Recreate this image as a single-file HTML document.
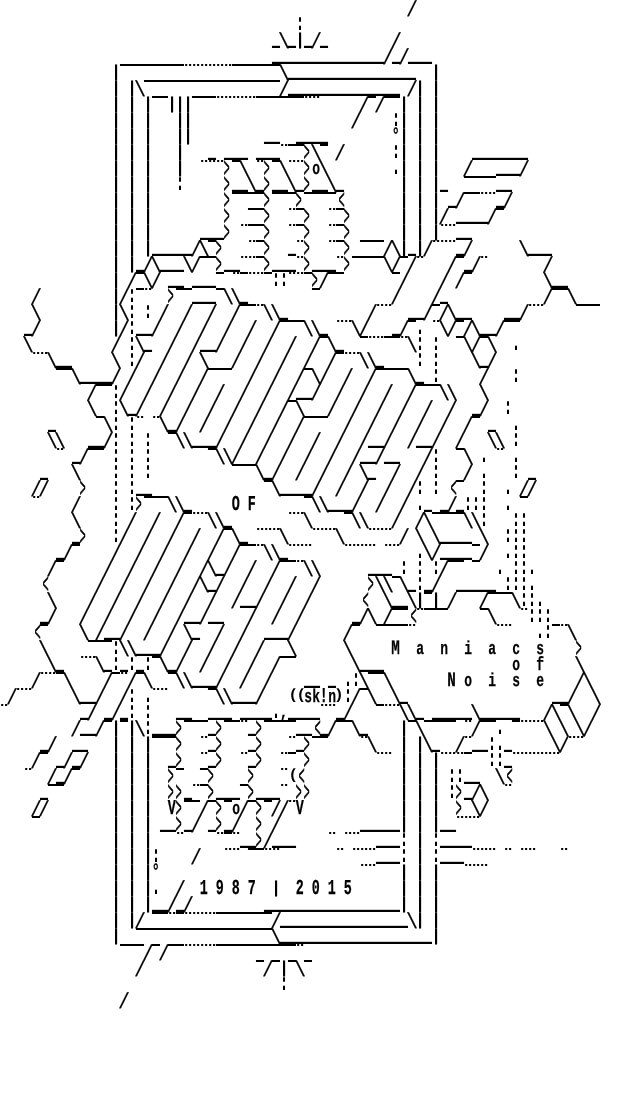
<!DOCTYPE html>
<html><head><meta charset="utf-8"><title>Maniacs of Noise</title>
<style>
html,body{margin:0;padding:0;background:#fff;}
body{width:640px;height:1120px;position:relative;overflow:hidden;}
#art{position:absolute;left:0;top:0;margin:0;padding:0;color:#000;font-family:"Liberation Mono",monospace;font-size:13.33116px;line-height:16px;white-space:pre;will-change:transform;text-rendering:geometricPrecision;font-kerning:none;font-variant-ligatures:none;}
#art span{display:inline-block;vertical-align:top;height:16px;line-height:16px;white-space:pre;transform-origin:0 0;}
.sl{font-size:21.9px;font-weight:normal;letter-spacing:-4.3646px;transform:translate(-2.11px,3px) scale(0.911416,1);-webkit-text-stroke:0.2px #000;}
.us{font-size:46.5px;font-weight:bold;letter-spacing:-0.0045px;transform:translate(0.0px,-9px) scale(0.286738,1);}
.ov{font-size:43.06px;font-weight:normal;letter-spacing:-0.0041px;transform:translate(0.0px,15px) scale(0.309645,1);}
.br{font-size:16.0px;font-weight:bold;letter-spacing:-1.6016px;transform:translate(-0.8px,0px) scale(1.000000,1);text-shadow:0 1px 0 #000;}
.di{font-size:18.7px;font-weight:bold;letter-spacing:-3.2939px;transform:translate(-1.55px,0px) scale(1.009091,1);}
.gt{font-size:28.5px;font-weight:normal;letter-spacing:5.0331px;transform:translate(-0.5px,2px) scale(0.361404,1);-webkit-text-stroke:0.5px #000;}
.lt{font-size:28.5px;font-weight:normal;letter-spacing:5.0331px;transform:translate(2.5px,2px) scale(0.361404,1);-webkit-text-stroke:0.5px #000;}
.pt{font-size:22.0px;font-weight:bold;letter-spacing:-0.8078px;transform:translate(-0.2px,1px) scale(0.645455,1);text-shadow:0 -0.8px 0 #000;}
.lc{font-size:18.8px;font-weight:bold;letter-spacing:0.2874px;transform:translate(0.2px,1px) scale(0.691489,1);-webkit-text-stroke:0.25px #000;}
.pl{font-size:15.0px;font-weight:bold;letter-spacing:-1.5015px;transform:translate(0.5px,0px) scale(1.066667,1);}
.pr{font-size:15.0px;font-weight:bold;letter-spacing:-1.5015px;transform:translate(-1.9px,0px) scale(1.066667,1);}
.tx{font-size:21.25px;font-weight:bold;letter-spacing:-0.0655px;transform:translate(-0.3px,1px) scale(0.630588,1);-webkit-text-stroke:0.25px #000;}
.wd{font-size:18.8px;font-weight:bold;transform:translate(0.2px,1px) scale(0.691489,1);-webkit-text-stroke:0.25px #000;}
.wd::first-letter{font-size:20.6px;line-height:1px;margin-left:-1.302px;margin-right:1.302px;}
.lc.k3{letter-spacing:23.4259px}
.tx.k2{letter-spacing:12.6211px}
.wd.f2::first-letter{letter-spacing:10.7764px}
.wd.f3::first-letter{letter-spacing:22.3457px}
.wd.k3{letter-spacing:23.4259px}
.n1{width:8px}.n2{width:16px}.n3{width:24px}.n4{width:32px}.n5{width:40px}.n6{width:48px}.n7{width:56px}.n8{width:64px}.n10{width:80px}.n12{width:96px}.n14{width:112px}.n16{width:128px}.n17{width:136px}.n19{width:152px}

</style></head><body>
<pre id="art">
                                                   <span class="sl n1">/</span>
                                     <span class="pt n1">:</span>
                                  <span class="us n1">_</span><span class="sl n1">\</span><span class="us n1">_</span><span class="br n1">|</span><span class="us n1">_</span><span class="sl n1">/</span><span class="us n1">_</span>        <span class="sl n1">/</span>
                                  <span class="us n14">______________</span><span class="sl n1">/</span><span class="us n1">_</span><span class="sl n1">/</span><span class="us n3">___</span>
              <span class="br n1">|</span><span class="ov n8">¯¯¯¯¯¯¯¯</span><span class="di n6">¨¨¨¨¨¨</span><span class="ov n6">¯¯¯¯¯¯</span><span class="sl n1">\</span><span class="us n16">________________</span>  <span class="br n1">|</span>
              <span class="br n1">|</span> <span class="br n1">|</span><span class="sl n1">\</span><span class="ov n17">¯¯¯¯¯¯¯¯¯¯¯¯¯¯¯¯¯</span><span class="sl n1">/</span><span class="us n14">______________</span> <span class="sl n1">/</span><span class="br n1">|</span> <span class="br n1">|</span>
              <span class="br n1">|</span> <span class="br n1">|</span> <span class="br n1">|</span><span class="ov n2">¯¯</span><span class="br n3">|||</span><span class="ov n3">¯¯¯</span><span class="di n5">¨¨¨¨¨</span><span class="ov n6">¯¯¯¯¯¯</span><span class="di n2">¨¨</span>     <span class="sl n1">/</span><span class="ov n1">¯</span><span class="sl n1">/</span><span class="ov n2">¯¯</span><span class="br n1">|</span> <span class="br n1">|</span> <span class="br n1">|</span>
              <span class="br n1">|</span> <span class="br n1">|</span> <span class="br n1">|</span>   <span class="br n2">||</span>                    <span class="sl n1">/</span>    <span class="pt n1">:</span><span class="br n1">|</span> <span class="br n1">|</span> <span class="br n1">|</span>
              <span class="br n1">|</span> <span class="br n1">|</span> <span class="br n1">|</span>   <span class="br n2">||</span>         <span class="us n2">__</span>  <span class="us n4">____</span>        <span class="tx n1">°</span><span class="br n1">|</span> <span class="br n1">|</span> <span class="br n1">|</span>
              <span class="br n1">|</span> <span class="br n1">|</span> <span class="br n1">|</span>   <span class="br n1">|</span>   <span class="us n1">_</span> <span class="us n3">___</span> <span class="us n3">___</span><span class="di n1">¨</span><span class="ov n2">¯¯</span><span class="gt n1">&gt;</span><span class="sl n1">\</span><span class="ov n1">¯</span> <span class="sl n1">/</span>      <span class="pt n1">:</span><span class="br n1">|</span> <span class="br n1">|</span> <span class="br n1">|</span>    <span class="us n7">_______</span>
              <span class="br n1">|</span> <span class="br n1">|</span> <span class="br n1">|</span>   <span class="br n1">|</span>  <span class="di n3">¨¨¨</span><span class="gt n1">&gt;</span><span class="ov n1">¯</span><span class="sl n1">\</span> <span class="di n1">¨</span><span class="gt n1">&gt;</span><span class="ov n1">¯</span><span class="sl n1">\</span><span class="di n2">¨¨</span><span class="gt n1">&gt;</span><span class="lc n1">o</span><span class="sl n1">\</span>        <span class="pt n1">.</span><span class="br n1">|</span> <span class="br n1">|</span> <span class="br n1">|</span>   <span class="sl n1">/</span>   <span class="us n3">___</span><span class="sl n1">/</span>
              <span class="br n1">|</span> <span class="br n1">|</span> <span class="br n1">|</span>   <span class="pt n1">:</span>     <span class="gt n1">&gt;</span><span class="us n2">__</span><span class="sl n1">\</span><span class="us n1">_</span><span class="gt n1">&gt;</span><span class="us n2">__</span><span class="sl n1">\</span><span class="us n1">_</span><span class="gt n1">&gt;</span><span class="us n2">__</span><span class="sl n1">\</span><span class="us n1">_</span>       <span class="br n1">|</span> <span class="br n1">|</span> <span class="br n1">|</span><span class="us n1">_</span>  <span class="ov n4">¯¯¯¯</span><span class="us n2">__</span>
              <span class="br n1">|</span> <span class="br n1">|</span> <span class="br n1">|</span>         <span class="gt n1">&gt;</span><span class="ov n4">¯¯¯¯</span><span class="gt n1">&gt;</span><span class="ov n3">¯¯¯</span><span class="gt n1">&gt;</span><span class="ov n4">¯¯¯¯</span><span class="lt n1">&lt;</span>       <span class="br n1">|</span> <span class="br n1">|</span> <span class="br n1">|</span> <span class="us n1">_</span><span class="sl n1">/</span><span class="ov n2">¯¯</span><span class="di n2">¨¨</span><span class="us n1">_</span><span class="sl n1">/</span>
              <span class="br n1">|</span> <span class="br n1">|</span> <span class="br n1">|</span>         <span class="gt n1">&gt;</span>  <span class="ov n2">¯¯</span><span class="gt n1">&gt;</span>  <span class="di n1">¨</span><span class="ov n1">¯</span><span class="gt n1">&gt;</span>  <span class="di n1">¨</span><span class="ov n1">¯</span><span class="gt n1">&gt;</span>      <span class="br n1">|</span> <span class="br n1">|</span> <span class="br n1">|</span><span class="sl n1">/</span> <span class="us n4">____</span><span class="sl n1">/</span><span class="ov n1">¯</span>
              <span class="br n1">|</span> <span class="br n1">|</span> <span class="br n1">|</span>      <span class="us n3">___</span><span class="gt n1">&gt;</span> <span class="di n1">¨</span><span class="ov n2">¯¯</span><span class="gt n1">&gt;</span>  <span class="di n1">¨</span><span class="ov n1">¯</span><span class="gt n1">&gt;</span>  <span class="di n1">¨</span><span class="ov n1">¯</span><span class="gt n1">&gt;</span>      <span class="br n1">|</span> <span class="br n1">|</span> <span class="br n1">|</span><span class="di n2">¨¨</span><span class="us n2">__</span>
              <span class="br n1">|</span> <span class="br n1">|</span> <span class="br n1">|</span><span class="us n5">_____</span><span class="sl n2">/\</span><span class="ov n1">¯</span><span class="gt n1">&gt;</span>   <span class="di n1">¨</span><span class="ov n1">¯</span><span class="gt n1">&gt;</span>  <span class="us n1">_</span><span class="di n1">¨</span><span class="gt n1">&gt;</span>  <span class="di n1">¨</span><span class="ov n1">¯</span><span class="gt n1">&gt;</span> <span class="ov n3">¯¯¯</span><span class="sl n2">/\</span><span class="br n1">|</span><span class="us n1">_</span><span class="br n1">|</span><span class="sl n1">/</span><span class="di n3">¨¨¨</span><span class="us n1">_</span><span class="sl n1">/</span>      <span class="sl n1">\</span><span class="us n3">___</span>
              <span class="br n1">|</span> <span class="br n1">|</span><span class="us n1">_</span><span class="sl n2">/\</span><span class="us n3">___</span><span class="sl n2">\/</span><span class="ov n2">¯¯</span><span class="gt n1">&gt;</span><span class="us n2">__</span><span class="di n2">¨¨</span><span class="ov n1">¯</span><span class="gt n1">&gt;</span><span class="us n3">___</span><span class="di n1">¨</span><span class="gt n1">&gt;</span><span class="us n3">___</span><span class="di n1">¨</span><span class="gt n1">&gt;</span><span class="ov n4">¯¯¯¯</span><span class="sl n2">\/</span><span class="ov n1">¯</span><span class="sl n1">/</span><span class="di n1">¨</span>   <span class="sl n1">/</span><span class="ov n1">¯</span><span class="us n1">_</span><span class="sl n1">/</span><span class="di n1">¨</span>       <span class="sl n1">/</span>
              <span class="br n1">|</span> <span class="sl n1">/</span><span class="ov n1">¯</span><span class="sl n2">\/</span> <span class="us n2">__</span> <span class="us n3">___</span><span class="ov n1">¯</span> <span class="di n1">¨</span><span class="ov n1">¯</span><span class="di n2">¨¨</span><span class="ov n1">¯</span><span class="pt n2">::</span><span class="di n2">¨¨</span><span class="ov n1">¯</span><span class="gt n1">&gt;</span><span class="sl n1">/</span><span class="ov n2">¯¯</span>      <span class="ov n1">¯</span><span class="sl n1">/</span>    <span class="sl n1">/</span> <span class="sl n1">/</span><span class="ov n1">¯</span>         <span class="sl n1">\</span><span class="us n2">__</span>
    <span class="sl n1">/</span>         <span class="br n1">|</span><span class="sl n1">/</span><span class="pt n1">:</span><span class="ov n1">¯</span><span class="di n1">¨</span>  <span class="gt n1">&gt;</span><span class="ov n2">¯¯</span><span class="us n3">___</span><span class="ov n1">¯</span><span class="sl n2">\\</span><span class="us n1">_</span>        <span class="ov n1">¯</span>         <span class="sl n1">/</span>    <span class="sl n1">/</span><span class="us n1">_</span>            <span class="sl n1">/</span><span class="ov n2">¯¯</span><span class="sl n1">\</span>
    <span class="sl n1">\</span>         <span class="br n1">|</span><span class="sl n1">\</span><span class="pt n1">:</span> <span class="pt n1">:</span> <span class="sl n1">/</span>  <span class="sl n1">/</span>  <span class="sl n1">/</span>  <span class="sl n1">/</span><span class="ov n2">¯¯</span><span class="di n1">¨</span><span class="sl n2">\\</span><span class="us n1">_</span>          <span class="sl n1">/</span><span class="di n2">¨¨</span>  <span class="us n2">__</span><span class="sl n1">/</span><span class="ov n1">¯</span><span class="sl n2">/\</span><span class="us n2">__</span>    <span class="us n2">__</span><span class="sl n1">/</span><span class="di n2">¨¨</span>    <span class="ov n3">¯¯¯</span>
   <span class="us n1">_</span><span class="sl n1">/</span>         <span class="br n1">|</span><span class="sl n1">/</span><span class="pt n1">:</span><span class="us n2">__</span><span class="sl n1">/</span>  <span class="sl n1">/</span>  <span class="sl n1">/</span>  <span class="sl n1">/</span>  <span class="sl n1">/</span>  <span class="sl n1">/</span><span class="ov n3">¯¯¯</span><span class="sl n2">\\</span><span class="us n1">_</span> <span class="di n2">¨¨</span><span class="sl n2">\/</span>   <span class="us n1">_</span><span class="sl n1">/</span><span class="ov n1">¯</span><span class="pt n1">.</span> <span class="di n1">¨</span><span class="sl n2">\/</span><span class="ov n1">¯</span><span class="sl n2">/\</span><span class="us n2">__</span><span class="sl n1">/</span><span class="ov n2">¯¯</span>
   <span class="sl n1">\</span>          <span class="sl n1">/</span> <span class="pt n1">:</span><span class="sl n1">\</span><span class="us n1">_</span>  <span class="sl n1">/</span>  <span class="sl n1">/</span><span class="us n2">__</span><span class="sl n1">/</span>  <span class="sl n1">/</span>  <span class="sl n1">/</span>  <span class="sl n1">/</span>  <span class="sl n1">/</span><span class="ov n1">¯</span><span class="sl n1">\</span><span class="us n1">_</span>  <span class="ov n1">¯</span><span class="di n2">¨¨</span><span class="ov n2">¯¯</span><span class="di n1">¨</span><span class="sl n1">\</span><span class="pt n1">:</span> <span class="pt n1">:</span>  <span class="ov n1">¯</span><span class="sl n2">\/</span><span class="ov n1">¯</span><span class="sl n1">\</span>  <span class="pt n1">.</span>
    <span class="di n2">¨¨</span><span class="sl n1">\</span><span class="us n2">__</span>     <span class="sl n1">\</span> <span class="pt n1">:</span><span class="sl n1">/</span>  <span class="sl n1">/</span>  <span class="sl n1">/</span> <span class="sl n1">\</span>   <span class="sl n1">/</span>  <span class="sl n1">/</span>  <span class="sl n1">/</span>  <span class="sl n1">/</span>  <span class="sl n1">/</span><span class="ov n1">¯</span><span class="di n2">¨¨</span><span class="sl n2">\\</span><span class="us n1">_</span>    <span class="pt n1">:</span> <span class="pt n1">:</span>    <span class="sl n1">\</span><span class="us n1">_</span><span class="sl n1">/</span>
       <span class="ov n2">¯¯</span><span class="sl n1">\</span><span class="us n4">____</span><span class="sl n1">/</span> <span class="sl n1">/</span>  <span class="sl n1">/</span>  <span class="sl n1">/</span>  <span class="sl n1">/</span><span class="ov n3">¯¯¯</span>  <span class="sl n1">/</span>  <span class="sl n1">/</span>  <span class="sl n1">/</span><span class="ov n1">¯</span><span class="sl n2">\/</span>  <span class="sl n1">/</span>  <span class="sl n1">/</span><span class="ov n4">¯¯¯¯</span><span class="sl n1">\</span><span class="us n1">_</span> <span class="pt n1">:</span>     <span class="sl n1">/</span>   <span class="pt n1">:</span>
           <span class="sl n1">/</span><span class="ov n2">¯¯</span><span class="pt n1">:</span><span class="sl n1">/</span>  <span class="sl n1">/</span>  <span class="sl n1">/</span>  <span class="sl n1">/</span>  <span class="sl n1">/</span>  <span class="sl n1">/</span>  <span class="sl n1">/</span>  <span class="sl n1">/</span><span class="us n2">__</span><span class="sl n1">/</span>  <span class="sl n1">/</span>  <span class="sl n1">/</span>  <span class="sl n1">/</span>  <span class="sl n1">/</span><span class="ov n3">¯¯¯</span><span class="sl n2">\\</span>   <span class="sl n1">\</span>
           <span class="sl n1">\</span>  <span class="pt n1">:</span><span class="sl n1">\</span><span class="us n1">_</span><span class="sl n1">/</span>  <span class="sl n1">/</span>  <span class="sl n1">/</span>  <span class="sl n1">/</span>  <span class="sl n1">/</span>  <span class="sl n1">/</span>  <span class="sl n1">/</span><span class="ov n1">¯</span><span class="sl n1">\</span>   <span class="sl n1">/</span>  <span class="sl n1">/</span>  <span class="sl n1">/</span>  <span class="sl n1">/</span>  <span class="sl n1">/</span>  <span class="sl n1">/</span>  <span class="us n1">_</span><span class="sl n1">/</span>  <span class="pt n1">:</span>
      <span class="us n1">_</span>     <span class="ov n1">¯</span><span class="sl n1">\</span><span class="pt n1">:</span> <span class="pt n1">:</span><span class="di n1">¨</span> <span class="di n1">¨</span><span class="sl n1">\</span><span class="us n1">_</span><span class="sl n1">/</span>  <span class="sl n1">/</span>  <span class="sl n1">/</span>  <span class="sl n1">/</span>  <span class="sl n1">/</span>  <span class="sl n1">/</span><span class="ov n3">¯¯¯</span>  <span class="sl n1">/</span>  <span class="sl n1">/</span>  <span class="sl n1">/</span>  <span class="sl n1">/</span>  <span class="sl n1">/</span>  <span class="sl n1">/</span><span class="ov n1">¯</span> <span class="us n1">_</span>  <span class="pt n1">.</span>
      <span class="sl n2">\\</span>   <span class="us n2">__</span><span class="sl n1">/</span><span class="pt n1">:</span> <span class="pt n1">:</span> <span class="pt n1">:</span>  <span class="ov n1">¯</span><span class="sl n2">\\</span><span class="us n3">___</span><span class="sl n1">/</span>  <span class="sl n1">/</span>  <span class="sl n1">/</span>  <span class="sl n1">/</span>  <span class="sl n1">/</span>  <span class="sl n1">/</span>  <span class="sl n1">/</span><span class="us n2">__</span><span class="sl n1">/</span>  <span class="sl n1">/</span><span class="us n2">__</span><span class="sl n1">/</span>  <span class="sl n1">/</span>   <span class="sl n2">\\</span> <span class="pt n1">:</span>
       <span class="di n1">¨</span> <span class="us n1">_</span><span class="sl n1">/</span><span class="ov n2">¯¯</span> <span class="pt n1">:</span> <span class="pt n1">:</span> <span class="pt n1">:</span>       <span class="ov n1">¯</span><span class="sl n3">\\/</span>  <span class="sl n1">/</span>  <span class="sl n1">/</span>  <span class="sl n1">/</span>  <span class="sl n1">/</span>  <span class="sl n1">/</span><span class="us n2">__</span><span class="sl n1">/</span><span class="us n2">__</span>   <span class="sl n1">/</span><span class="pt n1">:</span>  <span class="ov n1">¯</span><span class="sl n1">\</span> <span class="pt n1">.</span> <span class="di n1">¨</span> <span class="pt n1">.</span>
     <span class="us n1">_</span>   <span class="sl n1">\</span>    <span class="pt n1">:</span> <span class="pt n1">:</span> <span class="pt n1">:</span>          <span class="ov n3">¯¯¯</span><span class="sl n1">\</span><span class="us n1">_</span><span class="sl n1">/</span>  <span class="sl n1">/</span>  <span class="sl n1">/</span>  <span class="sl n1">/</span> <span class="sl n1">\</span><span class="us n1">_</span>  <span class="sl n1">/</span>  <span class="sl n1">/</span> <span class="pt n1">:</span>   <span class="sl n1">/</span> <span class="pt n1">.</span>   <span class="pt n1">:</span> <span class="us n1">_</span>
    <span class="sl n2">//</span>    <span class="gt n1">&gt;</span>   <span class="pt n1">:</span> <span class="pt n1">:</span><span class="us n2">__</span>              <span class="ov n1">¯</span><span class="sl n1">\</span><span class="us n4">____</span><span class="sl n1">/</span>  <span class="sl n1">/</span>  <span class="sl n1">/</span>  <span class="sl n1">/</span>  <span class="sl n1">/</span><span class="pt n1">:</span> <span class="pt n1">:</span> <span class="lt n1">&lt;</span><span class="ov n1">¯</span>  <span class="pt n1">:</span>  <span class="pt n1">.</span> <span class="sl n2">//</span>
    <span class="di n1">¨</span>    <span class="sl n1">/</span>    <span class="pt n1">:</span> <span class="pt n1">:</span><span class="gt n1">&gt;</span><span class="ov n3">¯¯¯</span><span class="sl n2">\\</span><span class="us n1">_</span>     <span class="tx k2 n3">OF</span>      <span class="ov n1">¯</span><span class="sl n2">\\</span><span class="us n3">___</span><span class="sl n1">/</span>  <span class="sl n1">/</span>  <span class="sl n1">/</span> <span class="pt n1">.</span><span class="us n1">_</span> <span class="us n1">_</span><span class="sl n1">/</span><span class="us n1">_</span><span class="pt n3">:::</span>  <span class="pt n1">.</span> <span class="ov n1">¯</span>
         <span class="sl n1">\</span>    <span class="pt n1">:</span> <span class="sl n1">/</span>  <span class="sl n1">/</span>  <span class="sl n1">/</span><span class="ov n1">¯</span><span class="di n2">¨¨</span><span class="sl n2">\\</span><span class="us n1">_</span>       <span class="di n2">¨¨</span><span class="sl n1">\</span>    <span class="ov n1">¯</span><span class="sl n2">\\</span>   <span class="sl n1">/</span>  <span class="sl n2">/\</span><span class="ov n4">¯¯¯¯</span><span class="sl n2">\\</span><span class="pt n1">:</span>   <span class="pt n2">::</span>
         <span class="us n1">_</span><span class="gt n1">&gt;</span>   <span class="pt n1">:</span><span class="sl n1">/</span>  <span class="sl n1">/</span>  <span class="sl n1">/</span>  <span class="sl n1">/</span>  <span class="sl n1">/</span><span class="ov n1">¯</span><span class="sl n1">\</span><span class="us n1">_</span> <span class="di n3">¨¨¨</span><span class="sl n1">\</span>   <span class="di n3">¨¨¨</span><span class="sl n1">\</span>   <span class="di n3">¨¨¨</span> <span class="sl n1">/</span> <span class="sl n1">\</span> <span class="sl n1">\</span><span class="us n4">____</span> <span class="sl n1">\</span>  <span class="pt n3">:::</span>
       <span class="us n1">_</span><span class="sl n1">/</span><span class="ov n1">¯</span>    <span class="sl n1">/</span>  <span class="sl n1">/</span>  <span class="sl n1">/</span>  <span class="sl n1">/</span>  <span class="sl n1">/</span>  <span class="sl n1">/</span><span class="ov n2">¯¯</span><span class="di n1">¨</span><span class="sl n2">\\</span><span class="us n1">_</span><span class="di n3">¨¨¨</span>    <span class="di n4">¨¨¨¨</span> <span class="di n2">¨¨</span>  <span class="pt n1">.</span><span class="sl n2">\/</span><span class="us n4">____</span><span class="ov n1">¯</span><span class="sl n1">/</span>  <span class="pt n3">.::</span>
      <span class="sl n1">/</span><span class="ov n1">¯</span>     <span class="sl n1">/</span>  <span class="sl n1">/</span>  <span class="sl n1">/</span>  <span class="sl n1">/</span>  <span class="sl n2">/\</span><span class="us n1">_</span><span class="sl n1">/</span>  <span class="sl n1">/</span>  <span class="sl n1">/</span><span class="ov n2">¯¯</span><span class="di n1">¨</span><span class="sl n2">\\</span>      <span class="us n3">___</span> <span class="pt n1">:</span> <span class="pt n1">:</span> <span class="pt n1">:</span><span class="sl n1">/</span><span class="ov n2">¯¯</span> <span class="ov n1">¯</span>  <span class="pt n1">.</span> <span class="pt n3">::.</span>
     <span class="lt n1">&lt;</span>      <span class="sl n1">/</span>  <span class="sl n1">/</span>  <span class="sl n1">/</span>  <span class="sl n1">/</span>  <span class="sl n2">/\</span><span class="us n1">_</span><span class="sl n1">/</span>  <span class="sl n1">/</span>  <span class="sl n1">/</span>  <span class="sl n1">/</span>  <span class="sl n1">/</span>      <span class="gt n1">&gt;</span><span class="sl n2">\\</span><span class="ov n1">¯</span><span class="sl n1">\</span><span class="us n1">_</span><span class="pt n1">:</span><span class="us n1">_</span><span class="sl n1">/</span>  <span class="us n5">_____</span> <span class="pt n4">:::.</span>
      <span class="sl n1">\</span>    <span class="sl n1">/</span>  <span class="sl n1">/</span>  <span class="sl n1">/</span>  <span class="sl n1">/</span>  <span class="sl n1">/</span>  <span class="sl n1">/</span>  <span class="sl n1">/</span><span class="us n2">__</span><span class="sl n1">/</span>  <span class="sl n1">/</span>  <span class="sl n1">/</span>      <span class="lt n1">&lt;</span>  <span class="sl n1">\</span><span class="us n2">__</span><span class="sl n1">\</span><span class="br n1">|</span><span class="ov n1">¯</span><span class="br n1">|</span> <span class="sl n1">/</span>   <span class="sl n1">/</span><span class="ov n3">¯¯¯</span><span class="sl n1">\</span><span class="pt n3">::.</span>
     <span class="us n1">_</span><span class="sl n1">/</span>   <span class="sl n1">/</span>  <span class="sl n1">/</span>  <span class="sl n1">/</span>  <span class="sl n1">/</span>  <span class="sl n1">/</span><span class="us n2">__</span><span class="sl n1">/</span><span class="us n2">__</span>   <span class="sl n1">/</span>  <span class="sl n1">/</span>  <span class="sl n1">/</span>      <span class="us n1">_</span><span class="sl n2">/\</span> <span class="sl n1">/</span><span class="ov n2">¯¯</span><span class="lt n1">&lt;</span><span class="di n1">¨</span><span class="ov n3">¯¯¯</span>    <span class="ov n1">¯</span><span class="sl n1">\</span>   <span class="di n1">¨</span><span class="pt n3">:::</span>
    <span class="lt n1">&lt;</span><span class="ov n1">¯</span>    <span class="sl n1">\</span> <span class="sl n1">/</span><span class="us n2">__</span><span class="sl n1">/</span>  <span class="sl n1">/</span>  <span class="sl n1">/</span> <span class="sl n1">\</span><span class="us n1">_</span>  <span class="sl n1">/</span>  <span class="sl n1">/</span>  <span class="us n3">___</span><span class="sl n1">/</span>      <span class="sl n1">/</span><span class="ov n1">¯</span>  <span class="ov n4">¯¯¯¯</span><span class="di n1">¨</span>          <span class="di n2">¨¨</span>   <span class="pt n2">.:</span><span class="ov n1">¯</span><span class="di n1">¨</span><span class="sl n1">\</span>
     <span class="sl n1">\</span>     <span class="ov n3">¯¯¯</span><span class="pt n1">:</span><span class="sl n2">\\</span><span class="us n3">___</span><span class="sl n1">/</span>  <span class="sl n1">/</span>  <span class="sl n1">/</span>  <span class="sl n1">/</span>  <span class="sl n1">/</span>   <span class="sl n1">\</span>      <span class="sl n1">\</span>     <span class="wd k3 f3 n19">Maniacs</span>    <span class="gt n1">&gt;</span>
      <span class="sl n1">\</span><span class="us n1">_</span>  <span class="di n2">¨¨</span><span class="sl n1">\</span><span class="us n1">_</span><span class="pt n1">:</span><span class="us n1">_</span><span class="pt n1">:</span><span class="us n1">_</span><span class="pt n1">:</span><span class="ov n1">¯</span><span class="sl n1">\</span><span class="us n1">_</span><span class="sl n1">/</span>  <span class="sl n1">/</span>  <span class="sl n1">/</span>  <span class="sl n1">/</span>  <span class="sl n1">/</span><span class="ov n2">¯¯</span>       <span class="sl n1">\</span><span class="us n3">___</span>                <span class="lc k3 n4">of</span>    <span class="sl n1">\</span>
    <span class="sl n1">/</span><span class="di n2">¨¨</span><span class="ov n1">¯</span><span class="sl n1">\</span>    <span class="sl n1">/</span><span class="ov n1">¯</span><span class="di n1">¨</span><span class="sl n1">/</span><span class="ov n1">¯</span><span class="sl n1">\</span>  <span class="ov n1">¯</span><span class="sl n2">\\</span><span class="us n3">___</span><span class="sl n1">/</span>  <span class="sl n1">/</span>  <span class="sl n1">/</span>    <span class="us n2">__</span> <span class="us n1">_</span> <span class="pt n2">.:</span><span class="sl n1">\</span><span class="ov n2">¯¯</span><span class="sl n1">\</span>       <span class="wd k3 f2 n12">Noise</span>    <span class="sl n2">/\</span>
 <span class="sl n1">/</span><span class="di n2">¨¨</span>     <span class="sl n1">\</span><span class="us n2">__</span><span class="sl n1">/</span>  <span class="sl n1">/</span><span class="pt n1">:</span> <span class="pt n1">.</span><span class="di n2">¨¨</span>     <span class="ov n1">¯</span><span class="sl n2">\\</span><span class="us n3">___</span><span class="sl n1">/</span>   <span class="pl n2">((</span><span class="lc n2">sk</span><span class="tx n1">!</span><span class="lc n1">n</span><span class="pr n1">)</span><span class="pt n1">:</span><span class="sl n1">/</span><span class="ov n1">¯</span><span class="sl n1">\</span>  <span class="sl n1">\</span><span class="us n1">_</span>                  <span class="us n2">__</span><span class="sl n1">/</span>  <span class="sl n1">\</span>
<span class="di n1">¨</span>         <span class="us n1">_</span><span class="sl n1">/</span> <span class="us n1">_</span><span class="sl n1">/</span><span class="us n1">_</span><span class="pt n1">:</span> <span class="pt n1">:</span>   <span class="us n2">__</span>  <span class="us n3">___</span> <span class="us n4">____</span><span class="pt n1">.</span><span class="tx n1">,</span><span class="us n4">____</span><span class="di n2">¨¨</span><span class="us n1">_</span><span class="sl n1">/</span>   <span class="ov n1">¯</span><span class="di n2">¨¨</span><span class="sl n2">\\</span><span class="us n1">_</span> <span class="us n5">_____</span><span class="sl n1">\</span><span class="us n5">_____</span>   <span class="sl n2">/\</span><span class="ov n1">¯</span><span class="sl n1">\</span>  <span class="sl n1">/</span>
         <span class="sl n1">/</span><span class="us n2">__</span><span class="sl n1">/</span><span class="ov n1">¯</span><span class="br n1">|</span><span class="ov n1">¯</span><span class="br n1">|</span><span class="sl n1">\</span><span class="pt n1">:</span><span class="us n3">___</span><span class="gt n1">&gt;</span><span class="ov n3">¯¯¯</span><span class="us n1">_</span><span class="gt n1">&gt;</span><span class="ov n2">¯¯</span><span class="di n1">¨</span><span class="us n1">_</span><span class="gt n1">&gt;</span><span class="ov n4">¯¯¯¯</span><span class="us n2">__</span><span class="lt n1">&lt;</span><span class="us n1">_</span><span class="sl n1">/</span><span class="ov n2">¯¯</span><span class="sl n1">\</span><span class="us n1">_</span>    <span class="br n1">|</span><span class="ov n1">¯</span><span class="sl n1">\</span><span class="ov n4">¯¯¯¯</span> <span class="di n1">¨</span><span class="sl n1">/</span><span class="ov n2">¯¯</span><span class="pt n1">.</span> <span class="ov n1">¯</span><span class="di n3">¨¨¨</span><span class="sl n1">\</span> <span class="sl n1">\</span> <span class="sl n2">\/</span>
     <span class="us n1">_</span><span class="sl n1">/</span>  <span class="us n2">__</span>   <span class="br n1">|</span> <span class="br n1">|</span> <span class="br n1">|</span><span class="ov n3">¯¯¯</span><span class="gt n1">&gt;</span>  <span class="di n1">¨</span><span class="us n1">_</span><span class="gt n1">&gt;</span>   <span class="us n1">_</span><span class="gt n1">&gt;</span>   <span class="di n1">¨</span><span class="us n1">_</span><span class="gt n1">&gt;</span><span class="ov n2">¯¯</span>    <span class="di n1">¨</span><span class="sl n1">\</span>   <span class="br n1">|</span> <span class="br n1">|</span><span class="sl n1">\</span><span class="us n1">_</span>  <span class="sl n1">/</span><span class="di n1">¨</span><span class="us n2">__</span><span class="pt n2">:.</span><span class="us n1">_</span>     <span class="sl n2">\/</span><span class="di n2">¨¨</span>
    <span class="sl n1">/</span><span class="ov n1">¯</span> <span class="us n1">_</span><span class="sl n1">/</span><span class="us n1">_</span><span class="sl n1">/</span>   <span class="br n1">|</span> <span class="br n1">|</span> <span class="br n1">|</span>  <span class="us n1">_</span><span class="gt n1">&gt;</span>  <span class="di n1">¨</span><span class="us n1">_</span><span class="gt n1">&gt;</span>  <span class="di n1">¨</span><span class="us n1">_</span><span class="gt n1">&gt;</span>  <span class="di n1">¨</span><span class="ov n1">¯</span> <span class="gt n1">&gt;</span>        <span class="di n2">¨¨</span> <span class="br n1">|</span> <span class="br n1">|</span> <span class="br n1">|</span><span class="di n3">¨¨¨</span><span class="ov n1">¯</span>  <span class="pt n2">::</span><span class="us n1">_</span><span class="di n6">¨¨¨¨¨¨</span>
   <span class="di n1">¨</span>  <span class="sl n1">/</span><span class="us n1">_</span><span class="sl n1">/</span><span class="ov n1">¯</span>    <span class="br n1">|</span> <span class="br n1">|</span> <span class="br n1">|</span>  <span class="gt n1">&gt;</span><span class="ov n1">¯</span>  <span class="ov n1">¯</span><span class="gt n1">&gt;</span>    <span class="gt n1">&gt;</span>   <span class="di n1">¨</span><span class="pl n1">(</span><span class="lt n1">&lt;</span>            <span class="br n1">|</span> <span class="br n1">|</span> <span class="br n1">|</span> <span class="pt n2">::</span><span class="us n2">__</span>  <span class="sl n1">\</span><span class="lt n1">&lt;</span>
     <span class="us n1">_</span><span class="ov n2">¯¯</span>      <span class="br n1">|</span> <span class="br n1">|</span> <span class="br n1">|</span>  <span class="gt n2">&gt;&gt;</span><span class="us n1">_</span><span class="di n1">¨</span><span class="ov n1">¯</span><span class="gt n1">&gt;</span><span class="us n3">___</span><span class="ov n1">¯</span><span class="gt n1">&gt;</span><span class="us n3">___</span><span class="di n1">¨</span> <span class="gt n2">&gt;&gt;</span>           <span class="br n1">|</span> <span class="br n1">|</span> <span class="br n1">|</span> <span class="pt n1">:</span><span class="gt n1">&gt;</span><span class="us n1">_</span><span class="sl n2">/\</span>  <span class="di n1">¨</span>
    <span class="sl n2">//</span>        <span class="br n1">|</span> <span class="br n1">|</span> <span class="br n1">|</span>  <span class="tx n1">V</span><span class="gt n1">&gt;</span><span class="ov n2">¯¯</span><span class="sl n1">/</span><span class="ov n1">¯</span><span class="gt n1">&gt;</span><span class="ov n1">¯</span><span class="lc n1">o</span><span class="sl n1">/</span><span class="ov n1">¯</span><span class="gt n1">&gt;</span><span class="ov n1">¯</span><span class="sl n2">//</span><span class="di n1">¨</span><span class="tx n1">V</span>            <span class="br n1">|</span> <span class="br n1">|</span> <span class="br n1">|</span>  <span class="gt n1">&gt;</span> <span class="sl n2">\/</span>
    <span class="ov n1">¯</span>         <span class="br n1">|</span> <span class="br n1">|</span> <span class="br n1">|</span> <span class="us n2">__</span><span class="gt n1">&gt;</span><span class="us n1">_</span><span class="sl n1">/</span> <span class="us n1">_</span><span class="gt n1">&gt;</span><span class="us n1">_</span><span class="sl n1">/</span>  <span class="gt n1">&gt;</span> <span class="sl n1">/</span>          <span class="us n5">_____</span><span class="br n1">|</span> <span class="br n1">|</span> <span class="br n1">|</span><span class="us n2">__</span><span class="di n3">¨¨¨</span>
              <span class="br n1">|</span> <span class="br n1">|</span> <span class="br n1">|</span>   <span class="di n1">¨</span>    <span class="di n1">¨</span><span class="ov n1">¯</span><span class="di n1">¨</span><span class="us n2">__</span><span class="gt n1">&gt;</span><span class="sl n1">/</span><span class="us n3">___</span>    <span class="di n1">¨</span> <span class="di n2">¨¨</span>  <span class="us n3">___</span><span class="pt n1">:</span> <span class="br n1">|</span> <span class="pt n1">:</span><span class="us n4">____</span>
              <span class="br n1">|</span> <span class="br n1">|</span> <span class="br n1">|</span><span class="pt n1">:</span>    <span class="sl n1">/</span>   <span class="di n2">¨¨</span> <span class="ov n2">¯¯</span><span class="di n2">¨¨</span>       <span class="di n1">¨</span> <span class="di n3">¨¨¨</span><span class="us n3">___</span><span class="pt n1">:</span> <span class="br n1">|</span> <span class="pt n1">:</span><span class="us n3">___</span> <span class="di n3">¨¨¨</span> <span class="di n1">¨</span> <span class="di n2">¨¨</span>   <span class="di n1">¨</span>
              <span class="br n1">|</span> <span class="br n1">|</span> <span class="br n1">|</span><span class="tx n1">°</span>                         <span class="di n2">¨¨</span>   <span class="br n1">|</span> <span class="br n1">|</span> <span class="br n1">|</span>   <span class="di n3">¨¨¨</span>
              <span class="br n1">|</span> <span class="br n1">|</span> <span class="br n1">|</span><span class="pt n1">.</span>  <span class="sl n1">/</span>  <span class="tx k2 n7">1987</span>  <span class="br n1">|</span>  <span class="tx k2 n7">2015</span>      <span class="br n1">|</span> <span class="br n1">|</span> <span class="br n1">|</span>
              <span class="br n1">|</span> <span class="br n1">|</span> <span class="br n1">|</span><span class="us n2">__</span><span class="sl n1">/</span><span class="us n1">_</span><span class="sl n1">/</span>         <span class="us n17">_________________</span><span class="br n1">|</span> <span class="br n1">|</span> <span class="br n1">|</span>
              <span class="br n1">|</span> <span class="br n1">|</span><span class="sl n1">/</span> <span class="ov n2">¯¯</span><span class="di n1">¨</span><span class="ov n1">¯</span><span class="di n4">¨¨¨¨</span><span class="ov n7">¯¯¯¯¯¯¯</span><span class="sl n1">/</span><span class="us n16">________________</span><span class="sl n1">\</span><span class="br n1">|</span> <span class="br n1">|</span>
              <span class="br n1">|</span>  <span class="ov n17">¯¯¯¯¯¯¯¯¯¯¯¯¯¯¯¯¯</span><span class="sl n1">\</span><span class="us n19">___________________</span><span class="br n1">|</span>
               <span class="ov n3">¯¯¯</span><span class="sl n1">/</span><span class="ov n1">¯</span><span class="sl n1">/</span><span class="ov n2">¯¯</span><span class="di n4">¨¨¨¨</span><span class="ov n10">¯¯¯¯¯¯¯¯¯¯</span><span class="di n1">¨</span>
                 <span class="sl n1">/</span>              <span class="ov n1">¯</span><span class="sl n1">/</span><span class="ov n1">¯</span><span class="br n1">|</span><span class="ov n1">¯</span><span class="sl n1">\</span><span class="ov n1">¯</span>
                                   <span class="pt n1">:</span>
               <span class="sl n1">/</span>






</pre>
</body></html>
